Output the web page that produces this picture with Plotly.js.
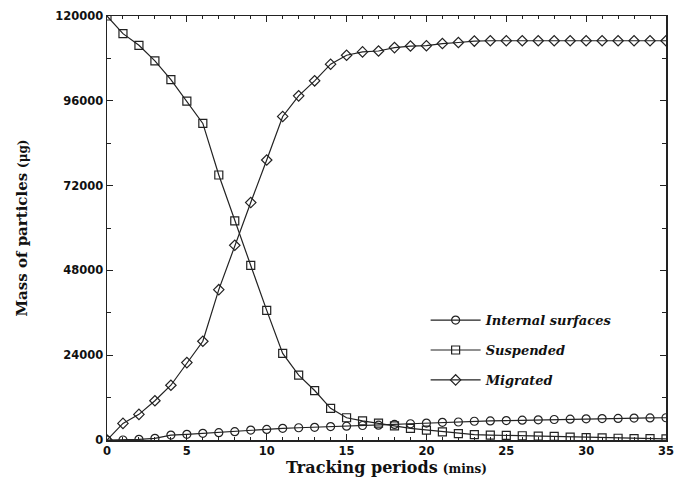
<!DOCTYPE html>
<html>
<head>
<meta charset="utf-8">
<script src="https://cdn.plot.ly/plotly-3.0.1.min.js"></script>
<style>html,body{margin:0;padding:0;background:#fff;}#chart{width:686px;height:479px;}</style>
</head>
<body>
<div id="chart"></div>
<script>
const periods = [0,1,2,3,4,5,6,7,8,9,10,11,12,13,14,15,16,17,18,19,20,21,22,23,24,25,26,27,28,29,30,31,32,33,34,35];
const internalSurfaces = [0,0,200,480,1400,1600,1900,2070,2350,2800,3000,3300,3470,3600,3800,3900,4100,4200,4400,4600,4800,5000,5100,5300,5400,5500,5600,5700,5800,5900,6000,6050,6100,6200,6250,6300];
const suspended = [120000,115000,111700,107300,102000,95900,89600,75000,62000,49400,36700,24500,18350,14000,8950,6300,5400,4800,4000,3300,2800,2300,1800,1500,1400,1300,1200,1100,1000,800,700,600,500,400,400,300];
const migrated = [0,4700,7250,11100,15500,21900,27950,42550,55100,67200,79250,91570,97400,101650,106360,108900,109840,110100,111050,111500,111600,112200,112500,112900,113000,113000,113000,113000,113000,113000,113000,113000,113000,113000,113000,113000];
const seriesNames = ['Internal surfaces','Suspended','Migrated'];
const yTickVals = [0,24000,48000,72000,96000,120000];
const yTickText = ['0','24000','48000','72000','96000','120000'];
const xTickVals = [0,5,10,15,20,25,30,35];
const xTickText = ['0','5','10','15','20','25','30','35'];

function mk(y, name, symbol, grp) {
  return {
    x: periods, y: y, name: name, type: 'scatter', mode: 'lines+markers',
    legendgroup: grp,
    line: {color: '#222', width: 1.2},
    marker: {symbol: symbol, size: 8, color: '#222', line: {color: '#222', width: 1.2}}
  };
}
const data = [
  mk(internalSurfaces, seriesNames[0], 'circle-open', 'a'),
  mk(suspended, seriesNames[1], 'square-open', 'b'),
  mk(migrated, seriesNames[2], 'diamond-open', 'c')
];
const tickFont = {family: 'DejaVu Sans, sans-serif', size: 11.5, color: '#111', weight: 700};
const bold = s => '<b>' + s + '</b>';
const layout = {
  width: 686, height: 479,
  margin: {l: 107, r: 20, t: 16, b: 39},
  paper_bgcolor: '#fff', plot_bgcolor: '#fff',
  showlegend: true,
  legend: {
    x: 0.57, y: 0.318, xanchor: 'left', yanchor: 'top',
    bgcolor: 'rgba(0,0,0,0)', borderwidth: 0,
    traceorder: 'grouped', tracegroupgap: 10, itemwidth: 50,
    font: {family: 'DejaVu Serif, serif', size: 13, color: '#111', style: 'italic', weight: 700}
  },
  xaxis: {
    range: [0, 35], tickvals: xTickVals, ticktext: xTickText.map(bold), ticks: 'inside', ticklen: 6, tickwidth: 1.2, tickcolor: '#222',
    minor: {dtick: 1, ticks: 'inside', ticklen: 3, tickcolor: '#222', tickwidth: 1},
    showgrid: false, zeroline: false, showline: true, linecolor: '#222', linewidth: 1.5, mirror: 'allticks',
    tickfont: tickFont,
    title: {text: '<b>Tracking periods</b> <b><span style="font-size:12px">(mins)</span></b>', standoff: 2,
      font: {family: 'DejaVu Serif, serif', size: 16, color: '#111'}}
  },
  yaxis: {
    range: [0, 120000], tickvals: yTickVals, ticktext: yTickText.map(bold), ticks: 'inside', ticklen: 6, tickwidth: 1.2, tickcolor: '#222',
    minor: {dtick: 12000, ticks: 'inside', ticklen: 4, tickcolor: '#222', tickwidth: 1},
    showgrid: false, zeroline: false, showline: true, linecolor: '#222', linewidth: 1.5, mirror: 'allticks',
    tickfont: tickFont,
    title: {text: '<b>Mass of particles</b> <b><span style="font-size:12px">(μg)</span></b>', standoff: 24,
      font: {family: 'DejaVu Serif, serif', size: 15, color: '#111'}}
  }
};
Plotly.newPlot('chart', data, layout, {displayModeBar: false, staticPlot: true});
</script>
</body>
</html>
